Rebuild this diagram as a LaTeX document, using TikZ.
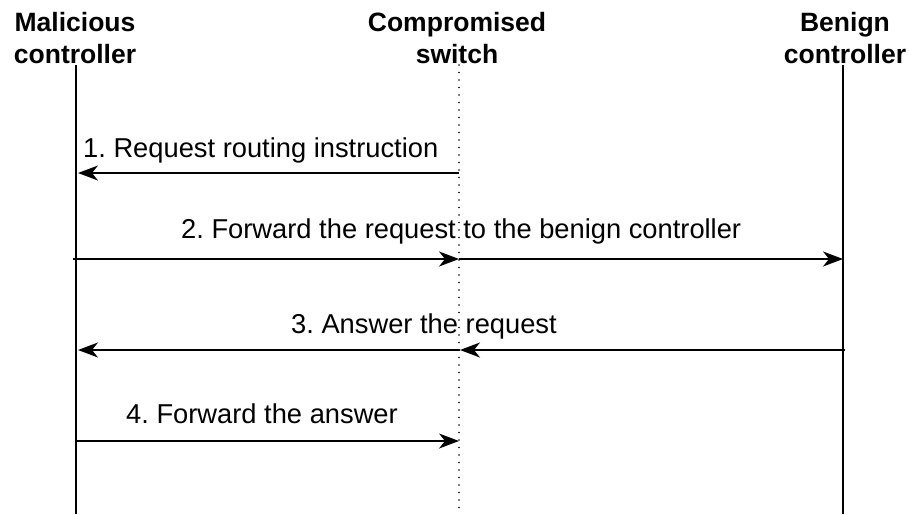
\documentclass[tikz,border=0pt]{standalone}
\usepackage{fontspec}
\setmainfont{Liberation Sans}
\usetikzlibrary{arrows.meta}
\frenchspacing
\begin{document}
\begin{tikzpicture}[x=1pt,y=-1pt,
  lifeline/.style={line width=1.6pt},
  dotline/.style={line width=1.6pt, line cap=round, dash pattern=on 0pt off 7.5pt},
  msg/.style={line width=1.6pt, -{Stealth[length=20pt,width=15pt,inset=6pt]}},
  head/.style={font=\fontsize{26.5}{32}\selectfont\bfseries, inner sep=0pt, align=center, anchor=north},
  lbl/.style={font=\fontsize{27.3}{32}\selectfont\frenchspacing, inner sep=0pt, anchor=base west}]
  \useasboundingbox (0,0) rectangle (909,514);

  % participants
  \node[head] (hm) at (75,12) {Malicious\\controller};
  \node[head] (hs) at (457,12) {Compromised\\switch};
  \node[head] (hb) at (845,12) {Benign\\controller};

  % lifeline ends
  \coordinate (mTop) at (76,65);   \coordinate (mBot) at (76,514);
  \coordinate (sTop) at (459,65);  \coordinate (sBot) at (459,514);
  \coordinate (bTop) at (843,65);  \coordinate (bBot) at (843,514);

  \draw[lifeline] (mTop) -- (mBot);
  \draw[lifeline] (bTop) -- (bBot);
  \draw[dotline] (sTop) -- (sBot);

  % message anchor points on each lifeline
  \coordinate (m1) at (78,173);  \coordinate (s1) at (459,173);
  \coordinate (m2) at (73,259);  \coordinate (s2) at (459,259);  \coordinate (b2) at (843,259);
  \coordinate (m3) at (78,350);  \coordinate (s3) at (460,350);  \coordinate (b3) at (845,350);
  \coordinate (m4) at (76,441);  \coordinate (s4) at (459,441);

  % messages
  \draw[msg] (s1) -- (m1);
  \draw[msg] (m2) -- (s2);
  \draw[msg] (s2) -- (b2);
  \draw[msg] (b3) -- (s3);
  \draw[msg] (s3) -- (m3);
  \draw[msg] (m4) -- (s4);

  % message labels
  \node[lbl] (l1) at (83,157) {1. Request routing instruction};
  \node[lbl] (l2) at (181,238) {2. Forward the request to the benign controller};
  \node[lbl] (l3) at (291,333) {3. Answer the request};
  \node[lbl] (l4) at (126,423) {4. Forward the answer};
\end{tikzpicture}
\end{document}
